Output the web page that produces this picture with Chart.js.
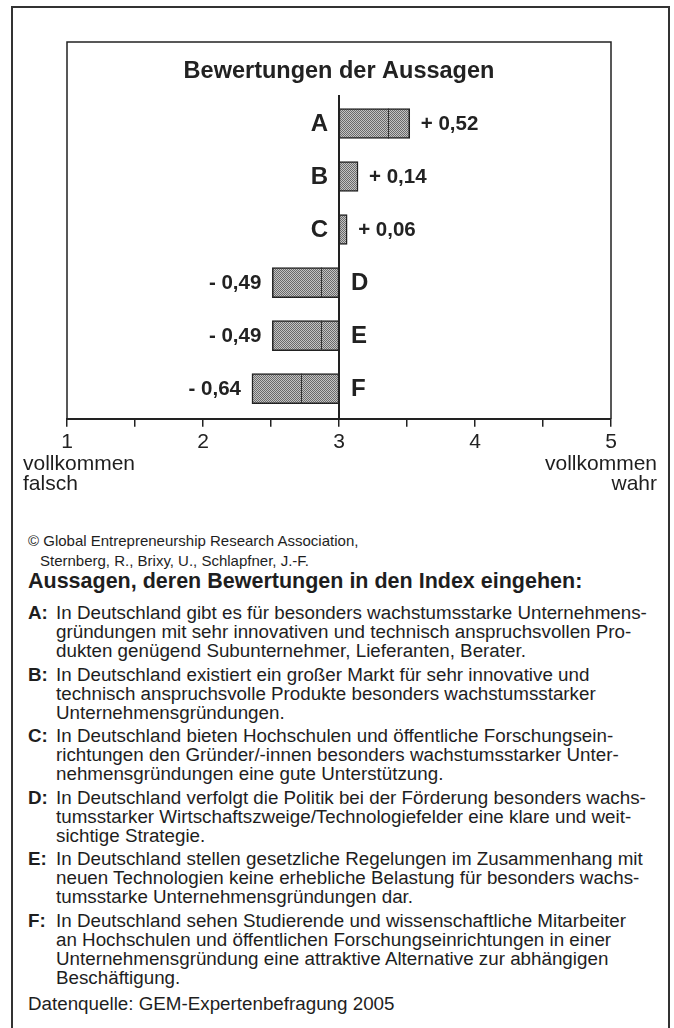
<!DOCTYPE html>
<html lang="de">
<head>
  <meta charset="UTF-8">
  <title>Bewertungen der Aussagen</title>
  <script src="https://cdn.jsdelivr.net/npm/chart.js"></script>
  <style>
    * {
      box-sizing: border-box;
      margin: 0;
      padding: 0;
    }
    body {
      font-family: 'Liberation Sans', Arial, Helvetica, sans-serif;
      background: #fff;
      color: #1e1e1e;
      width: 674px;
      height: 1028px;
      position: relative;
      overflow: hidden;
    }
    .frame {
      position: absolute;
      left: 11px;
      top: 6px;
      width: 659px;
      height: 1060px;
      border: 2px solid #333;
    }
    #ratingChart {
      position: absolute;
      left: 0;
      top: 0;
    }
    .scale-note {
      position: absolute;
      top: 453px;
      font-size: 21px;
      line-height: 20px;
    }
    .scale-note.left { left: 23px; }
    .scale-note.right { right: 17px; text-align: right; }
    .credit {
      position: absolute;
      left: 28px;
      top: 531px;
      font-size: 15px;
      line-height: 20px;
    }
    .credit span { padding-left: 12px; }
    .statements {
      position: absolute;
      left: 28px;
      top: 569px;
      width: 636px;
    }
    .statements h2 {
      font-size: 21.5px;
      line-height: 24px;
      font-weight: bold;
      margin-bottom: 10px;
    }
    .item {
      display: flex;
      font-size: 18.8px;
      line-height: 19px;
      margin-bottom: 4.5px;
    }
    .item b {
      width: 28px;
      flex: none;
    }
    .source {
      font-size: 18.8px;
      line-height: 19px;
      margin-top: 7px;
    }
  </style>
</head>
<body>
  <div class="frame"></div>
  <canvas id="ratingChart" width="674" height="462"></canvas>

  <div class="scale-note left">vollkommen<br>falsch</div>
  <div class="scale-note right">vollkommen<br>wahr</div>

  <div class="credit">© Global Entrepreneurship Research Association,<br><span>Sternberg, R., Brixy, U., Schlapfner, J.-F.</span></div>

  <div class="statements">
    <h2>Aussagen, deren Bewertungen in den Index eingehen:</h2>
    <div class="item"><b>A:</b><p>In Deutschland gibt es für besonders wachstumsstarke Unternehmens-<br>gründungen mit sehr innovativen und technisch anspruchsvollen Pro-<br>dukten genügend Subunternehmer, Lieferanten, Berater.</p></div>
    <div class="item"><b>B:</b><p>In Deutschland existiert ein großer Markt für sehr innovative und<br>technisch anspruchsvolle Produkte besonders wachstumsstarker<br>Unternehmensgründungen.</p></div>
    <div class="item"><b>C:</b><p>In Deutschland bieten Hochschulen und öffentliche Forschungsein-<br>richtungen den Gründer/-innen besonders wachstumsstarker Unter-<br>nehmensgründungen eine gute Unterstützung.</p></div>
    <div class="item"><b>D:</b><p>In Deutschland verfolgt die Politik bei der Förderung besonders wachs-<br>tumsstarker Wirtschaftszweige/Technologiefelder eine klare und weit-<br>sichtige Strategie.</p></div>
    <div class="item"><b>E:</b><p>In Deutschland stellen gesetzliche Regelungen im Zusammenhang mit<br>neuen Technologien keine erhebliche Belastung für besonders wachs-<br>tumsstarke Unternehmensgründungen dar.</p></div>
    <div class="item"><b>F:</b><p>In Deutschland sehen Studierende und wissenschaftliche Mitarbeiter<br>an Hochschulen und öffentlichen Forschungseinrichtungen in einer<br>Unternehmensgründung eine attraktive Alternative zur abhängigen<br>Beschäftigung.</p></div>
    <div class="source">Datenquelle: GEM-Expertenbefragung 2005</div>
  </div>

  <script>
    // Statements and their mean deviation from the neutral rating 3
    const categories = ['A', 'B', 'C', 'D', 'E', 'F'];
    const deviations = [0.52, 0.14, 0.06, -0.49, -0.49, -0.64];
    const neutral = 3;
    const scaleTicks = [1, 2, 3, 4, 5];

    const FONT = "'Liberation Sans', Arial, Helvetica, sans-serif";
    const INK = '#222';

    // fine dot screen used for the bars
    function dotPattern() {
      const c = document.createElement('canvas');
      c.width = 2;
      c.height = 2;
      const g = c.getContext('2d');
      g.fillStyle = '#c4c4c4';
      g.fillRect(0, 0, 2, 2);
      g.fillStyle = '#6a6a6a';
      g.fillRect(0, 0, 1, 1);
      g.fillRect(1, 1, 1, 1);
      return g.createPattern(c, 'repeat');
    }

    function formatValue(v) {
      const sign = v >= 0 ? '+ ' : '- ';
      return sign + Math.abs(v).toFixed(2).replace('.', ',');
    }

    // box, neutral line, seams and the letter / value labels
    const ratingMarks = {
      id: 'ratingMarks',
      afterDatasetsDraw(chart) {
        const ctx = chart.ctx;
        const area = chart.chartArea;
        const xs = chart.scales.x;
        const mid = xs.getPixelForValue(neutral);
        const bars = chart.getDatasetMeta(0).data;

        ctx.save();
        // frame around the plot
        ctx.strokeStyle = INK;
        ctx.lineWidth = 1.5;
        ctx.beginPath();
        ctx.moveTo(area.left, area.bottom);
        ctx.lineTo(area.left, 42);
        ctx.lineTo(area.right, 42);
        ctx.lineTo(area.right, area.bottom);
        ctx.stroke();

        // seam inside the wider bars
        ctx.lineWidth = 1;
        ctx.strokeStyle = '#333';
        bars.forEach(bar => {
          const p = bar.getProps(['x', 'y', 'base', 'height'], true);
          const left = Math.min(p.x, p.base);
          const right = Math.max(p.x, p.base);
          if (right - left > 55) {
            ctx.beginPath();
            ctx.moveTo(Math.round(left + 49) + 0.5, p.y - p.height / 2);
            ctx.lineTo(Math.round(left + 49) + 0.5, p.y + p.height / 2);
            ctx.stroke();
          }
        });

        // neutral line at 3
        ctx.lineWidth = 2;
        ctx.strokeStyle = INK;
        ctx.beginPath();
        ctx.moveTo(mid, 95);
        ctx.lineTo(mid, area.bottom);
        ctx.stroke();

        ctx.fillStyle = INK;
        ctx.textBaseline = 'middle';
        bars.forEach((bar, i) => {
          const p = bar.getProps(['x', 'y', 'base'], true);
          const left = Math.min(p.x, p.base);
          const right = Math.max(p.x, p.base);
          const v = deviations[i];
          ctx.font = 'bold 24px ' + FONT;
          if (v >= 0) {
            ctx.textAlign = 'right';
            ctx.fillText(categories[i], mid - 11, p.y + 1);
          } else {
            ctx.textAlign = 'left';
            ctx.fillText(categories[i], mid + 12, p.y + 1);
          }
          ctx.font = 'bold 20.5px ' + FONT;
          if (v >= 0) {
            ctx.textAlign = 'left';
            ctx.fillText(formatValue(v), right + 11, p.y + 1);
          } else {
            ctx.textAlign = 'right';
            ctx.fillText(formatValue(v), left - 11, p.y + 1);
          }
        });
        ctx.restore();
      }
    };

    new Chart(document.getElementById('ratingChart'), {
      type: 'bar',
      data: {
        labels: categories,
        datasets: [{
          data: deviations.map((d, i) => ({ x: [neutral, neutral + d], y: i })),
          backgroundColor: dotPattern(),
          borderColor: INK,
          borderWidth: 1.5,
          borderSkipped: false,
          barThickness: 30
        }]
      },
      options: {
        indexAxis: 'y',
        responsive: false,
        animation: false,
        layout: {
          padding: { left: 67, right: 63, top: 0, bottom: 4 }
        },
        plugins: {
          legend: { display: false },
          tooltip: { enabled: false },
          title: {
            display: true,
            text: 'Bewertungen der Aussagen',
            color: INK,
            font: { family: FONT, size: 23.5, weight: 'bold' },
            padding: { top: 57, bottom: 11.8 }
          }
        },
        scales: {
          x: {
            type: 'linear',
            min: 1,
            max: 5,
            grid: {
              drawOnChartArea: false,
              drawTicks: true,
              tickLength: 8,
              color: INK,
              lineWidth: 1.5
            },
            border: { display: true, color: INK, width: 2 },
            ticks: {
              stepSize: 0.5,
              autoSkip: false,
              maxRotation: 0,
              padding: 3,
              color: INK,
              font: { family: FONT, size: 21 },
              callback: v => scaleTicks.includes(v) ? String(v) : ''
            }
          },
          // statement rows, A at the top
          y: {
            type: 'linear',
            reverse: true,
            offset: false,
            min: -0.5,
            max: categories.length - 0.43,
            display: false
          }
        }
      },
      plugins: [ratingMarks]
    });
  </script>
</body>
</html>
